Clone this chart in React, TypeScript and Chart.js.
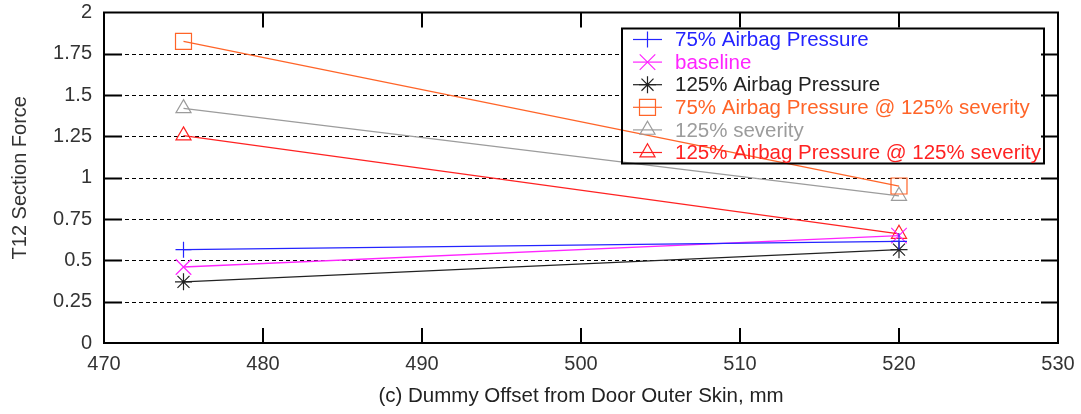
import { useEffect, useRef } from 'react';
import { Chart, registerables } from 'chart.js';

Chart.register(...registerables);

// Dummy offset from the door outer skin (mm)
const offsetsMm = [475, 520];

const seriesLabels = [
  '75% Airbag Pressure',
  'baseline',
  '125% Airbag Pressure',
  '75% Airbag Pressure @ 125% severity',
  '125% severity',
  '125% Airbag Pressure @ 125% severity',
];

// T12 section force per configuration
const airbag75 = [0.565, 0.615];
const baseline = [0.46, 0.65];
const airbag125 = [0.37, 0.565];
const airbag75Severity125 = [1.825, 0.95];
const severity125 = [1.42, 0.89];
const airbag125Severity125 = [1.255, 0.66];

const xTickValues = [470, 480, 490, 500, 510, 520, 530];
const yTickValues = [0, 0.25, 0.5, 0.75, 1, 1.25, 1.5, 1.75, 2];

type Marker = 'cross' | 'crossRot' | 'star' | 'rect' | 'triangle';

const seriesValues = [airbag75, baseline, airbag125, airbag75Severity125, severity125, airbag125Severity125];
const seriesColors = ['#2424ff', '#ff24ff', '#222222', '#ff6428', '#9c9c9c', '#ff2222'];
const seriesMarkers: Marker[] = ['cross', 'crossRot', 'star', 'rect', 'triangle', 'triangle'];
const markerRadius: Record<Marker, number> = { cross: 8, crossRot: 11, star: 8.5, rect: 11.3, triangle: 8.7 };

const FONT = '"Liberation Sans", Arial, Helvetica, sans-serif';
const TEXT_COLOR = '#333333';

function drawMarker(ctx: CanvasRenderingContext2D, style: Marker, x: number, y: number, r: number) {
  ctx.beginPath();
  const d = r * Math.SQRT1_2;
  switch (style) {
    case 'cross':
      ctx.moveTo(x, y - r); ctx.lineTo(x, y + r);
      ctx.moveTo(x - r, y); ctx.lineTo(x + r, y);
      break;
    case 'crossRot':
      ctx.moveTo(x - d, y - d); ctx.lineTo(x + d, y + d);
      ctx.moveTo(x - d, y + d); ctx.lineTo(x + d, y - d);
      break;
    case 'star':
      ctx.moveTo(x, y - r); ctx.lineTo(x, y + r);
      ctx.moveTo(x - r, y); ctx.lineTo(x + r, y);
      ctx.moveTo(x - d, y - d); ctx.lineTo(x + d, y + d);
      ctx.moveTo(x - d, y + d); ctx.lineTo(x + d, y - d);
      break;
    case 'rect':
      ctx.rect(x - d, y - d, 2 * d, 2 * d);
      break;
    case 'triangle': {
      const a = (2 * Math.PI) / 3;
      ctx.moveTo(x, y - r);
      ctx.lineTo(x + r * Math.sin(a), y - r * Math.cos(a));
      ctx.lineTo(x - r * Math.sin(a), y - r * Math.cos(a));
      ctx.closePath();
      break;
    }
  }
  ctx.stroke();
}

// Key box placement relative to the plot frame
const KEY = { rightInset: 14, topInset: 16, width: 422, height: 135, firstRow: 11, rowStep: 22.6 };

function keyBox(area: { right: number; top: number }) {
  const right = area.right - KEY.rightInset;
  const top = area.top + KEY.topInset;
  return { left: right - KEY.width, top, right, bottom: top + KEY.height };
}

const framePlugin = {
  id: 'gnuplotFrame',
  beforeDatasetsDraw(chart: Chart) {
    const { ctx, chartArea: a } = chart;
    const x = chart.scales.x;
    const y = chart.scales.y;
    ctx.save();

    // dashed horizontal grid
    ctx.strokeStyle = '#000';
    ctx.lineWidth = 1;
    ctx.setLineDash([4, 3]);
    for (const v of yTickValues) {
      if (v <= yTickValues[0] || v >= yTickValues[yTickValues.length - 1]) continue;
      const py = Math.round(y.getPixelForValue(v)) + 0.5;
      ctx.beginPath();
      ctx.moveTo(a.left, py);
      ctx.lineTo(a.right, py);
      ctx.stroke();
    }
    ctx.setLineDash([]);

    // key background hides the grid behind it
    const k = keyBox(a);
    ctx.fillStyle = '#fff';
    ctx.fillRect(k.left, k.top, k.right - k.left, k.bottom - k.top);

    // inward tick marks
    ctx.lineWidth = 2;
    ctx.strokeStyle = '#000';
    for (const v of xTickValues.slice(1, -1)) {
      const px = Math.round(x.getPixelForValue(v));
      ctx.beginPath();
      ctx.moveTo(px, a.bottom); ctx.lineTo(px, a.bottom - 15);
      ctx.moveTo(px, a.top); ctx.lineTo(px, a.top + 15);
      ctx.stroke();
    }
    for (const v of yTickValues.slice(1, -1)) {
      const py = Math.round(y.getPixelForValue(v)) + 0.5;
      ctx.beginPath();
      ctx.moveTo(a.left, py); ctx.lineTo(a.left + 18, py);
      ctx.moveTo(a.right, py); ctx.lineTo(a.right - 17, py);
      ctx.stroke();
    }

    // frame
    ctx.strokeRect(a.left, a.top, a.right - a.left, a.bottom - a.top);
    ctx.restore();
  },
  afterDatasetsDraw(chart: Chart) {
    const { ctx, chartArea: a } = chart;
    const k = keyBox(a);
    ctx.save();
    ctx.lineWidth = 2;
    ctx.strokeStyle = '#000';
    ctx.strokeRect(k.left, k.top, k.right - k.left, k.bottom - k.top);

    ctx.font = `20.5px ${FONT}`;
    ctx.textBaseline = 'middle';
    ctx.textAlign = 'left';
    chart.data.datasets.forEach((ds: any, i: number) => {
      const cy = k.top + KEY.firstRow + i * KEY.rowStep;
      const x0 = k.left + 11;
      const x1 = k.left + 40;
      ctx.strokeStyle = ds.borderColor;
      ctx.lineWidth = 1.2;
      ctx.beginPath();
      ctx.moveTo(x0, cy); ctx.lineTo(x1, cy);
      ctx.stroke();
      const m = seriesMarkers[i];
      drawMarker(ctx, m, (x0 + x1) / 2, cy, markerRadius[m]);
      ctx.fillStyle = ds.borderColor;
      ctx.fillText(ds.label, k.left + 53, cy + 1);
    });
    ctx.restore();
  },
};

export default function App() {
  const canvasRef = useRef<HTMLCanvasElement | null>(null);

  useEffect(() => {
    const canvas = canvasRef.current;
    if (!canvas) return;

    const datasets = seriesValues.map((values, i) => ({
      label: seriesLabels[i],
      data: offsetsMm.map((x, j) => ({ x, y: values[j] })),
      borderColor: seriesColors[i],
      backgroundColor: 'transparent',
      borderWidth: 1.3,
      pointStyle: seriesMarkers[i],
      pointRadius: markerRadius[seriesMarkers[i]],
      pointBorderWidth: 1.2,
      pointBorderColor: seriesColors[i],
      pointBackgroundColor: 'transparent',
      tension: 0,
      showLine: true,
    }));

    const chart = new Chart(canvas, {
      type: 'line',
      data: { datasets },
      plugins: [framePlugin],
      options: {
        animation: false,
        responsive: false,
        layout: { padding: { top: 10, right: 23, left: 0, bottom: 0 } },
        plugins: { legend: { display: false }, tooltip: { enabled: false } },
        scales: {
          x: {
            type: 'linear',
            min: xTickValues[0],
            max: xTickValues[xTickValues.length - 1],
            grid: { display: false, drawTicks: false },
            border: { display: false },
            afterBuildTicks: (s: any) => { s.ticks = xTickValues.map((value) => ({ value })); },
            afterFit: (s: any) => { s.height = 71; s.paddingLeft = 0; s.paddingRight = 0; },
            ticks: {
              autoSkip: false,
              maxRotation: 0,
              padding: 9,
              color: TEXT_COLOR,
              font: { family: FONT, size: 20 },
              callback: (v: any) => String(v),
            },
            title: {
              display: true,
              text: '(c) Dummy Offset from Door Outer Skin, mm',
              color: '#222',
              font: { family: FONT, size: 20.5 },
              padding: { top: 0, bottom: 5 },
            },
          },
          y: {
            type: 'linear',
            min: yTickValues[0],
            max: yTickValues[yTickValues.length - 1],
            grid: { display: false, drawTicks: false },
            border: { display: false },
            afterBuildTicks: (s: any) => { s.ticks = yTickValues.map((value) => ({ value })); },
            afterFit: (s: any) => { s.width = 104; s.paddingTop = 0; s.paddingBottom = 0; },
            ticks: {
              padding: 12,
              color: TEXT_COLOR,
              font: { family: FONT, size: 20 },
              callback: (v: any) => String(v),
            },
            title: {
              display: true,
              text: 'T12 Section Force',
              color: TEXT_COLOR,
              font: { family: FONT, size: 20 },
              padding: { top: 8, bottom: 0 },
            },
          },
        },
      },
    });

    return () => chart.destroy();
  }, []);

  return (
    <div style={{ position: 'absolute', left: 0, top: 0, width: 1081, height: 414, background: '#fff' }}>
      <canvas ref={canvasRef} width={1081} height={414} style={{ display: 'block' }} />
    </div>
  );
}
